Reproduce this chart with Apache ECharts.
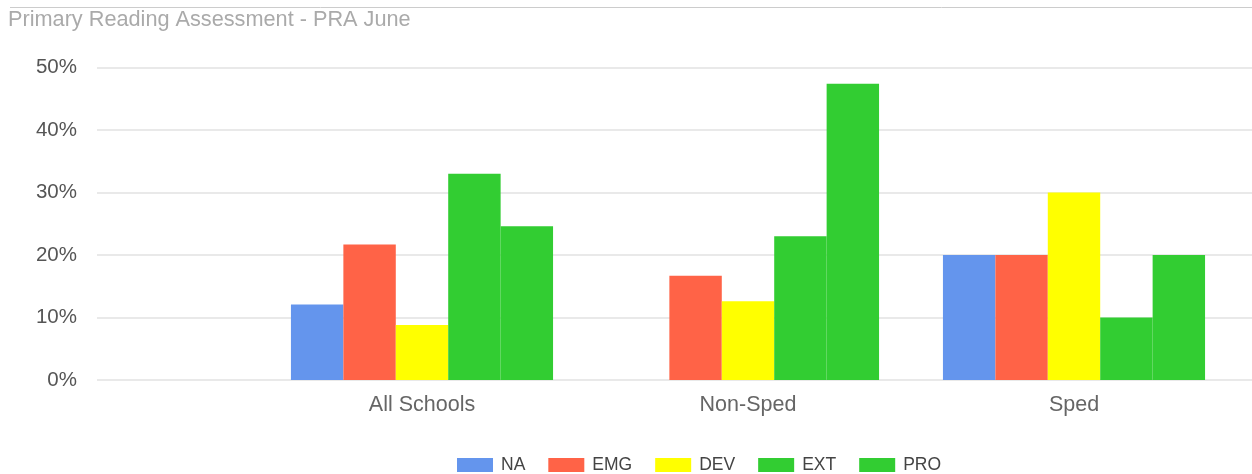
<!DOCTYPE html>
<html>
<head>
<meta charset="utf-8">
<script src="https://cdn.jsdelivr.net/npm/echarts@6/dist/echarts.min.js"></script>
<style>
html,body{margin:0;padding:0;background:#fff;}
#chart{width:1252px;height:474px;}
</style>
</head>
<body>
<div id="chart"></div>
<script>
var categories = ['All Schools', 'Non-Sped', 'Sped'];
var seriesNames = ['NA', 'EMG', 'DEV', 'EXT', 'PRO'];
var naValues  = [12.1, 0, 20];
var emgValues = [21.7, 16.7, 20];
var devValues = [8.8, 12.6, 30];
var extValues = [33.0, 23.0, 10];
var proValues = [24.6, 47.4, 20];
var yTicks = [0, 10, 20, 30, 40, 50];
var colors = ['#6495ED', '#FF6347', '#FFFF00', '#32CD32', '#32CD32'];

var allValues = [naValues, emgValues, devValues, extValues, proValues];
var font = '"Liberation Sans", Arial, sans-serif';

var chart = echarts.init(document.getElementById('chart'));
var series = seriesNames.map(function (n, i) {
  return {
    name: n,
    type: 'bar',
    xAxisIndex: 1,
    yAxisIndex: 1,
    data: allValues[i],
    barGap: '0%',
    barCategoryGap: '19.6%',
    itemStyle: { color: colors[i] },
    emphasis: { disabled: true }
  };
});

chart.setOption({
  animation: false,
  backgroundColor: '#fff',
  color: colors,
  title: {
    text: 'Primary Reading Assessment - PRA June',
    left: 8,
    top: 9,
    padding: 0,
    textStyle: { fontFamily: font, fontSize: 21.7, fontWeight: 'normal', color: '#aaaaaa' }
  },
  graphic: [{
    type: 'line',
    shape: { x1: 10, y1: 7.5, x2: 1252, y2: 7.5 },
    style: { stroke: '#cccccc', lineWidth: 1 }
  }],
  legend: {
    data: seriesNames,
    left: 457,
    top: 456,
    padding: 0,
    itemWidth: 36,
    itemHeight: 14,
    itemGap: 23,
    icon: 'rect',
    textStyle: { fontFamily: font, fontSize: 17.5, color: '#444', padding: [0, 0, 0, 3] }
  },
  grid: [
    { left: 97, right: 0, top: 67.5, height: 312.5, containLabel: false },
    { left: 259, width: 978, top: 67.5, height: 312.5, containLabel: false }
  ],
  xAxis: [
    { gridIndex: 0, type: 'category', data: [''], axisLine: { show: false }, axisTick: { show: false }, axisLabel: { show: false }, splitLine: { show: false } },
    { gridIndex: 1, type: 'category', data: categories,
      axisLine: { show: false }, axisTick: { show: false },
      axisLabel: { margin: 14, fontFamily: font, fontSize: 21.5, color: '#666' } }
  ],
  yAxis: [
    { gridIndex: 0, type: 'value', min: yTicks[0], max: yTicks[yTicks.length - 1], interval: 10,
      axisLine: { show: false }, axisTick: { show: false },
      axisLabel: { margin: 20, fontFamily: font, fontSize: 20.5, color: '#555', formatter: '{value}%', verticalAlign: 'middle', padding: [7, 0, 0, 0] },
      splitLine: { lineStyle: { color: '#e2e2e2', width: 1.5 } } },
    { gridIndex: 1, type: 'value', min: yTicks[0], max: yTicks[yTicks.length - 1], interval: 10,
      show: false, splitLine: { show: false } }
  ],
  series: series
});
</script>
</body>
</html>
